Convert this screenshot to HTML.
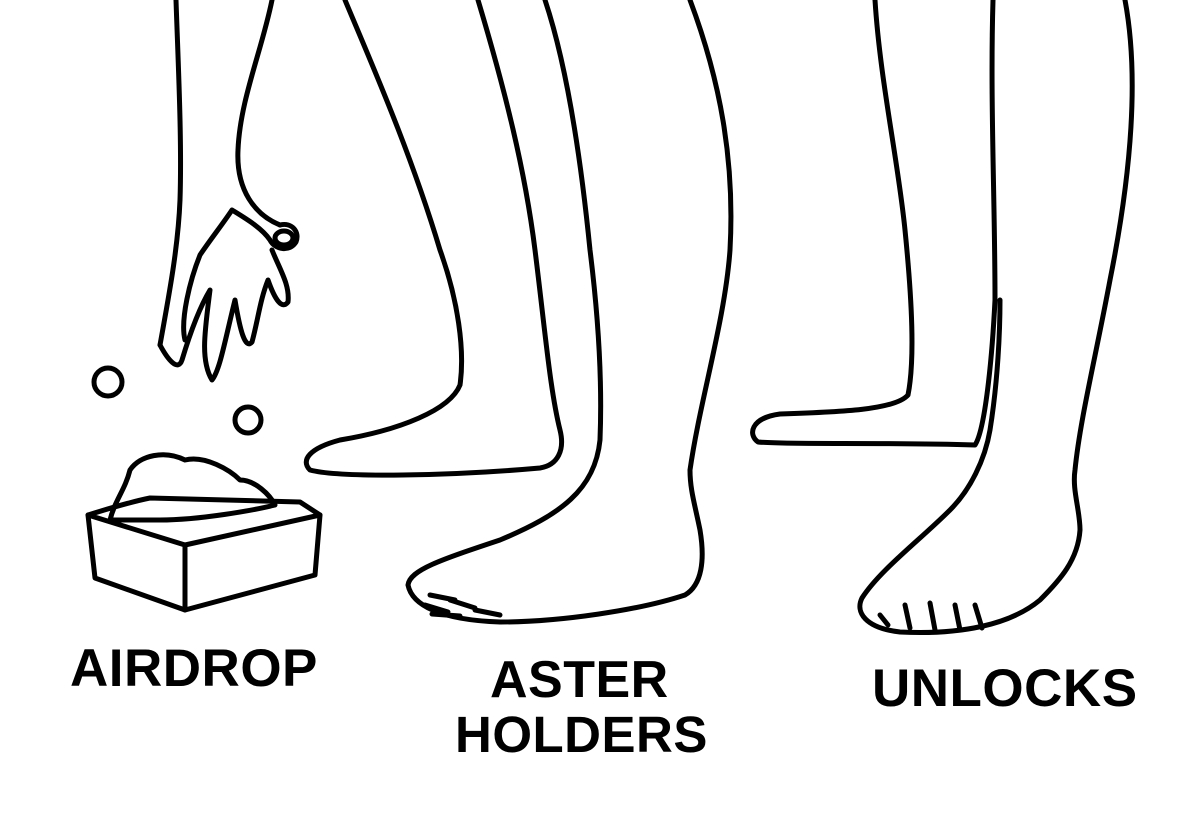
<!DOCTYPE html>
<html><head><meta charset="utf-8"><style>
html,body{margin:0;padding:0;background:#fff;width:1200px;height:816px;overflow:hidden}
svg{position:absolute;left:0;top:0}
text{font-family:"Liberation Sans",sans-serif;font-weight:bold;fill:#000;letter-spacing:0.5px}
</style></head><body>
<svg width="1200" height="816" viewBox="0 0 1200 816">
<g fill="none" stroke="#000" stroke-width="5" stroke-linecap="round" stroke-linejoin="round">
<path d="M176,0 C178,60 182,140 180,200 C178,250 168,300 160,345"/>
<path d="M272,0 C262,50 240,100 238,150 C236,190 255,215 280,225"/>
<path d="M280,225 C292,222 300,232 296,242 C290,252 275,250 270,240 C262,228 245,218 232,210 C222,225 210,240 200,255 C190,280 180,320 185,340"/>
<path d="M160,345 C168,360 178,372 182,360 C188,340 198,310 210,290 C205,330 200,360 212,380 C220,370 225,340 235,300 C240,330 245,350 252,342 C258,320 260,300 268,280 C275,300 282,310 288,302 C290,285 280,270 272,250"/>
<ellipse cx="284" cy="238" rx="9" ry="7"/>
<circle cx="108" cy="382" r="14"/>
<circle cx="248" cy="420" r="13"/>
<path d="M88,515 C120,505 140,500 150,498 L300,502 L320,515 L185,545 Z"/>
<path d="M88,515 L95,578 L185,610 L315,575 L320,515"/>
<path d="M185,545 L185,610"/>
<path d="M110,520 C115,500 125,490 130,470 C140,455 165,450 185,460 C205,455 230,470 240,480 C255,480 270,495 275,505 C255,510 200,520 160,520 C130,520 115,520 110,520"/>
<path d="M345,0 C370,60 410,150 440,250 C458,300 465,350 460,385 C450,410 400,430 340,440 C310,448 300,460 310,470 C340,478 450,476 540,468 C558,465 565,450 560,430 C550,390 545,330 535,250 C525,170 505,90 478,0"/>
<path d="M545,0 C565,60 580,150 590,250 C600,330 602,390 600,440 C595,490 560,515 500,540 C440,560 410,570 408,585 C412,605 440,620 500,622 C560,622 640,610 685,595 C702,585 705,560 700,530 C695,505 690,490 690,470 C700,400 725,320 730,250 C735,160 720,80 690,0"/>
<path d="M430,595 L455,600 M425,605 L448,612 M432,614 L460,616 M450,600 L475,608 M475,610 L500,615"/>
<path d="M875,0 C880,80 898,160 905,230 C912,300 915,360 908,395 C895,410 840,412 780,414 C750,418 748,435 758,442 C790,445 880,442 975,445 C985,430 992,360 995,300 C995,200 990,100 993,0"/>
<path d="M1125,0 C1140,80 1130,180 1110,280 C1095,360 1080,420 1075,470 C1072,490 1080,510 1080,530 C1078,560 1060,580 1040,600 C1010,625 960,635 900,632 C865,628 855,612 862,598 C880,570 920,540 950,510 C970,490 985,460 990,430 C998,380 1000,330 1000,300"/>
<path d="M880,615 L888,625 M905,605 L910,628 M930,603 L935,630 M955,605 L960,630 M975,605 L982,628"/>
</g>
<text x="70" y="686" font-size="53">AIRDROP</text>
<text x="490" y="697" font-size="52">ASTER</text>
<text x="455" y="752" font-size="51">HOLDERS</text>
<text x="872" y="706" font-size="53">UNLOCKS</text>
</svg>
</body></html>
